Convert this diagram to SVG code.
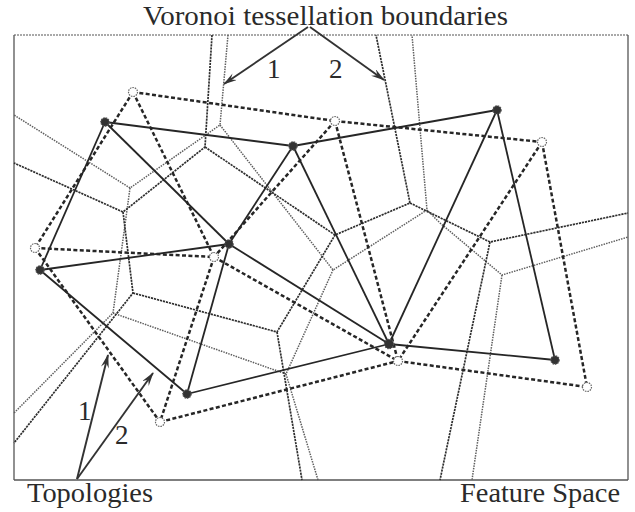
<svg xmlns="http://www.w3.org/2000/svg" width="635" height="512" viewBox="0 0 635 512">
<style>
.frame{fill:none;stroke:#555;stroke-width:1.3}
.vor1{fill:none;stroke:#2e2e2e;stroke-width:1.7;stroke-dasharray:2.2 0.9}
.vor2{fill:none;stroke:#5e5e5e;stroke-width:1.5;stroke-dasharray:1.5 1.1}
.top1{fill:none;stroke:#262626;stroke-width:1.8}
.top2{fill:none;stroke:#262626;stroke-width:2.5;stroke-dasharray:4 2.4}
.n1{fill:#333;stroke:#555;stroke-width:1.2;stroke-dasharray:1.5 1}
.n2{fill:#fff;stroke:#666;stroke-width:1.2;stroke-dasharray:1.5 1}
.arr{fill:none;stroke:#333;stroke-width:1.9}
.lbl{font-family:"Liberation Serif","Times New Roman",serif;fill:#2a2a2a}
</style>
<defs>
<marker id="ah" viewBox="0 0 14 8" refX="13" refY="4" markerWidth="14" markerHeight="8" markerUnits="userSpaceOnUse" orient="auto">
<path d="M0,0 L14,4 L0,8 L5,4 Z" fill="#333"/>
</marker>
</defs>
<rect width="635" height="512" fill="#fff"/>
<g id="frame">
<line x1="14" y1="35" x2="628" y2="35" stroke="#555" stroke-width="1.2" stroke-dasharray="2 1"/>
<line x1="14" y1="35" x2="14" y2="480" class="frame"/>
<line x1="628" y1="35" x2="628" y2="480" class="frame"/>
<line x1="14" y1="480" x2="628" y2="480" class="frame"/>
</g>
<g id="voronoi-2">
<polyline class="vor2" points="228,35 220,125 130,188 14,115"/>
<polyline class="vor2" points="220,125 333,270 427,210 412,35"/>
<polyline class="vor2" points="130,188 113,313 14,413"/>
<polyline class="vor2" points="113,313 286,374 333,270"/>
<polyline class="vor2" points="286,374 318,480"/>
<polyline class="vor2" points="427,210 440,223 502,275 628,237"/>
<polyline class="vor2" points="502,275 472,480"/>
</g>
<g id="voronoi-1">
<polyline class="vor1" points="212,35 205,147 123,212 14,163"/>
<polyline class="vor1" points="205,147 335,235 410,203 376,35"/>
<polyline class="vor1" points="123,212 133,293 14,443"/>
<polyline class="vor1" points="133,293 277,332 335,235"/>
<polyline class="vor1" points="277,332 302,480"/>
<polyline class="vor1" points="410,203 490,242 628,213"/>
<polyline class="vor1" points="490,242 440,480"/>
</g>
<g id="connectors">
<g id="topology-2-edges">
<line class="top2" x1="133" y1="92" x2="335" y2="121"/>
<line class="top2" x1="335" y1="121" x2="542" y2="142"/>
<line class="top2" x1="133" y1="92" x2="35" y2="248"/>
<line class="top2" x1="133" y1="92" x2="214" y2="257"/>
<line class="top2" x1="35" y1="248" x2="214" y2="257"/>
<line class="top2" x1="335" y1="121" x2="214" y2="257"/>
<line class="top2" x1="335" y1="121" x2="398" y2="361"/>
<line class="top2" x1="542" y1="142" x2="398" y2="361"/>
<line class="top2" x1="542" y1="142" x2="587" y2="387"/>
<line class="top2" x1="398" y1="361" x2="587" y2="387"/>
<line class="top2" x1="214" y1="257" x2="398" y2="361"/>
<line class="top2" x1="35" y1="248" x2="160" y2="422"/>
<line class="top2" x1="214" y1="257" x2="160" y2="422"/>
<line class="top2" x1="160" y1="422" x2="398" y2="361"/>
</g>
<g id="topology-1-edges">
<line class="top1" x1="105" y1="122" x2="293" y2="146"/>
<line class="top1" x1="293" y1="146" x2="497" y2="110"/>
<line class="top1" x1="105" y1="122" x2="40" y2="270"/>
<line class="top1" x1="105" y1="122" x2="229" y2="244"/>
<line class="top1" x1="40" y1="270" x2="229" y2="244"/>
<line class="top1" x1="229" y1="244" x2="293" y2="146"/>
<line class="top1" x1="293" y1="146" x2="389" y2="344"/>
<line class="top1" x1="229" y1="244" x2="187" y2="394"/>
<line class="top1" x1="229" y1="244" x2="389" y2="344"/>
<line class="top1" x1="40" y1="270" x2="187" y2="394"/>
<line class="top1" x1="187" y1="394" x2="389" y2="344"/>
<line class="top1" x1="497" y1="110" x2="389" y2="344"/>
<line class="top1" x1="497" y1="110" x2="555" y2="360"/>
<line class="top1" x1="389" y1="344" x2="555" y2="360"/>
</g>
</g>
<g id="node-a"><circle class="n2" cx="133" cy="92" r="4.5"/></g>
<g id="node-b"><circle class="n2" cx="335" cy="121" r="4.5"/></g>
<g id="node-c"><circle class="n2" cx="542" cy="142" r="4.5"/></g>
<g id="node-d"><circle class="n2" cx="35" cy="248" r="4.5"/></g>
<g id="node-e"><circle class="n2" cx="214" cy="257" r="4.5"/></g>
<g id="node-f"><circle class="n2" cx="398" cy="361" r="4.5"/></g>
<g id="node-g"><circle class="n2" cx="587" cy="387" r="4.5"/></g>
<g id="node-h"><circle class="n2" cx="160" cy="422" r="4.5"/></g>
<g id="node-A"><circle class="n1" cx="105" cy="122" r="4.2"/></g>
<g id="node-B"><circle class="n1" cx="293" cy="146" r="4.2"/></g>
<g id="node-C"><circle class="n1" cx="497" cy="110" r="4.2"/></g>
<g id="node-D"><circle class="n1" cx="229" cy="244" r="4.2"/></g>
<g id="node-E"><circle class="n1" cx="40" cy="270" r="4.2"/></g>
<g id="node-F"><circle class="n1" cx="389" cy="344" r="4.7"/></g>
<g id="node-G"><circle class="n1" cx="555" cy="360" r="4.2"/></g>
<g id="node-H"><circle class="n1" cx="187" cy="394" r="4.2"/></g>
<g id="arrows">
<line class="arr" x1="308" y1="27" x2="224" y2="84" marker-end="url(#ah)"/>
<line class="arr" x1="310" y1="27" x2="384" y2="80" marker-end="url(#ah)"/>
<line class="arr" x1="77" y1="479" x2="108" y2="355" marker-end="url(#ah)"/>
<line class="arr" x1="77" y1="479" x2="153" y2="373" marker-end="url(#ah)"/>
</g>
<g id="labels">
<text class="lbl" x="143" y="25" font-size="27" textLength="365" lengthAdjust="spacingAndGlyphs">Voronoi tessellation boundaries</text>
<text class="lbl" x="267" y="78" font-size="27">1</text>
<text class="lbl" x="329" y="78" font-size="27">2</text>
<text class="lbl" x="78" y="420" font-size="27">1</text>
<text class="lbl" x="115" y="444" font-size="27">2</text>
<text class="lbl" x="27" y="502" font-size="27" textLength="126" lengthAdjust="spacingAndGlyphs">Topologies</text>
<text class="lbl" x="460" y="502" font-size="27" textLength="160" lengthAdjust="spacingAndGlyphs">Feature Space</text>
</g>
</svg>
